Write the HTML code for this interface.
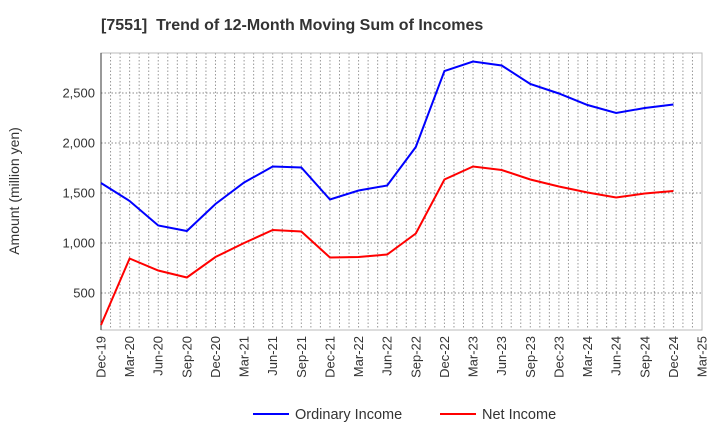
<!DOCTYPE html>
<html><head><meta charset="utf-8"><style>
body{margin:0;background:#fff;font-family:"Liberation Sans",sans-serif;}
</style></head><body>
<svg id="chart" width="720" height="440" xmlns="http://www.w3.org/2000/svg" font-family="Liberation Sans, sans-serif">
<text x="101" y="30" font-size="16" font-weight="bold" fill="#333">[7551]&#160; Trend of 12-Month Moving Sum of Incomes</text>
<text transform="translate(19,191) rotate(-90)" text-anchor="middle" font-size="14" fill="#333">Amount (million yen)</text>
<g id="grid"></g><g id="axes"></g><g id="series"></g>
<g>
<line x1="253" y1="414" x2="289" y2="414" stroke="#0000ff" stroke-width="2"/>
<text x="295" y="419" font-size="14.5" fill="#333">Ordinary Income</text>
<line x1="440" y1="414" x2="476" y2="414" stroke="#ff0000" stroke-width="2"/>
<text x="482" y="419" font-size="14.5" fill="#333">Net Income</text>
</g>
</svg>
<script>
const categories=["Dec-19","Mar-20","Jun-20","Sep-20","Dec-20","Mar-21","Jun-21","Sep-21","Dec-21","Mar-22","Jun-22","Sep-22","Dec-22","Mar-23","Jun-23","Sep-23","Dec-23","Mar-24","Jun-24","Sep-24","Dec-24","Mar-25"];
const ordinaryIncome=[1600,1420,1175,1120,1390,1605,1765,1755,1435,1525,1575,1960,2720,2815,2775,2590,2495,2380,2300,2350,2385];
const netIncome=[180,845,725,655,860,1000,1130,1115,855,860,885,1095,1635,1765,1730,1635,1565,1505,1455,1495,1520];
const yTicks=[500,1000,1500,2000,2500];
const X0=101,X1=702,Y0=330,Y1=53,VMIN=130,VMAX=2900;
const NS="http://www.w3.org/2000/svg";
function xs(i){return X0+(X1-X0)*i/(categories.length-1);}
function ys(v){return Y0-(v-VMIN)/(VMAX-VMIN)*(Y0-Y1);}
function mk(tag,attrs,parent){const e=document.createElementNS(NS,tag);for(const k in attrs)e.setAttribute(k,attrs[k]);parent.appendChild(e);return e;}
const grid=document.getElementById('grid'),axes=document.getElementById('axes'),series=document.getElementById('series');
const nMonths=(categories.length-1)*3;
for(let m=1;m<nMonths;m++){const x=X0+(X1-X0)*m/nMonths;
 const l=mk('line',{x1:x,x2:x,y1:Y1,y2:Y0,stroke:'#999','stroke-dasharray':'1.5,2','stroke-width':1},grid);
 
 }
yTicks.forEach(v=>{const y=ys(v);
 const l=mk('line',{x1:X0,x2:X1,y1:y,y2:y,stroke:'#888','stroke-dasharray':'1.5,2','stroke-width':1},grid);
 
 
 const t=mk('text',{x:X0-6,y:y+4.5,'text-anchor':'end','font-size':13,fill:'#333'},axes);
 t.textContent=v.toLocaleString('en-US');
 
 });
const fr=mk('rect',{x:X0,y:Y1,width:X1-X0,height:Y0-Y1,fill:'none',stroke:'#bbb'},axes);


const ya=mk('line',{x1:X0,x2:X0,y1:Y1,y2:Y0,stroke:'#333'},axes);


categories.forEach((c,i)=>{const x=xs(i);
 const t=mk('text',{transform:`translate(${x+4.5},${Y0+6}) rotate(-90)`,'text-anchor':'end','font-size':13,fill:'#333'},axes);
 t.textContent=c;
 
 });
function line(data,color,name){
 const p=mk('polyline',{points:data.map((v,i)=>xs(i)+','+ys(v)).join(' '),fill:'none',stroke:color,'stroke-width':2},series);
 
 }
line(ordinaryIncome,'#0000ff','ordinary-income-line');
line(netIncome,'#ff0000','net-income-line');
</script>
</body></html>
